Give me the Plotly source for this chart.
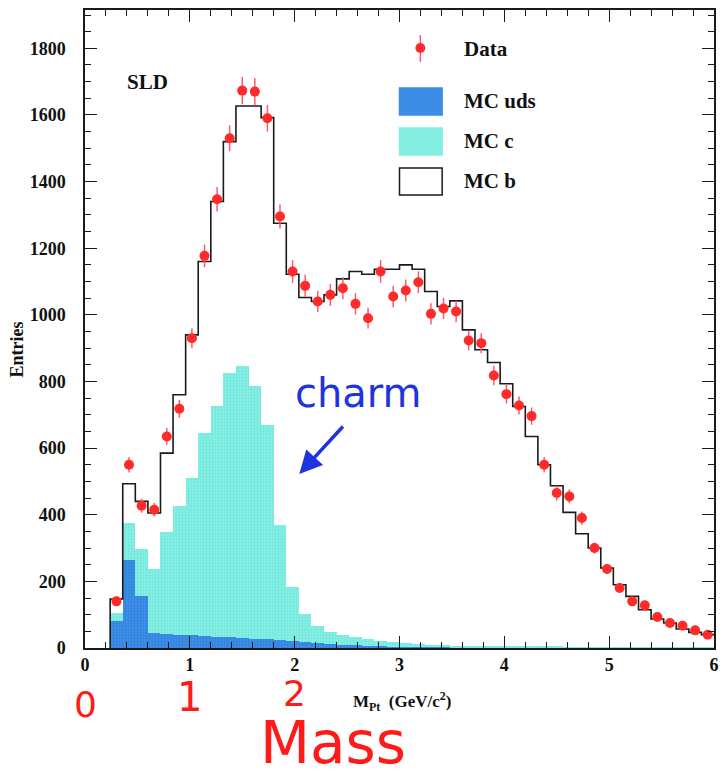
import plotly.graph_objects as go

# ---- data (48 bins of width 0.12 GeV/c^2 from 0.24 to 6.0) ----
bin_lo = 0.24
bin_w = 0.12
n_bins = 48

mc_uds = [80, 265, 155, 45, 42, 40, 38, 36, 34, 32, 30, 28, 26, 23, 20, 17,
          14, 12, 10, 8, 6, 5, 4, 3, 3, 2, 2, 2, 2, 2, 2, 2,
          2, 2, 2, 2, 1, 1, 1, 1, 1, 1, 1, 1, 1, 1, 1, 1]
mc_c = [25, 110, 143, 192, 305, 387, 472, 609, 691, 792, 817, 758, 644, 347, 163, 86,
        51, 36, 30, 25, 21, 17, 14, 12, 9, 8, 6, 5, 4, 4, 3, 3,
        2, 2, 2, 2, 2, 2, 2, 2, 2, 2, 2, 2, 2, 2, 2, 2]
mc_b = [42, 118, 142, 168, 238, 333, 430, 515, 615, 696, 780, 841, 922, 905, 939, 949,
        975, 1012, 1068, 1097, 1095, 1115, 1119, 1135, 1125, 1060, 1017, 1035, 949, 889, 852, 788,
        721, 631, 546, 483, 404, 340, 297, 237, 187, 152, 112, 84, 72, 54, 44, 37]
data = [140, 550, 427, 415, 635, 718, 930, 1177, 1347, 1530, 1673, 1670, 1590, 1295, 1130, 1087,
        1040, 1060, 1080, 1033, 990, 1130, 1055, 1073, 1098, 1003, 1019, 1010, 923, 915, 818, 762,
        728, 696, 550, 465, 455, 390, 300, 237, 180, 140, 128, 93, 75, 67, 53, 40]
data_err = [12, 23, 21, 20, 25, 27, 30, 34, 37, 39, 41, 41, 40, 36, 34, 33,
            32, 33, 33, 32, 31, 34, 32, 33, 33, 32, 32, 32, 30, 30, 29, 28,
            27, 26, 23, 22, 21, 20, 17, 15, 13, 12, 11, 10, 9, 8, 7, 6]

legend_labels = ["Data", "MC uds", "MC c", "MC b"]

edges = [round(bin_lo + bin_w * i, 4) for i in range(n_bins + 1)]
centers = [round(bin_lo + bin_w * (i + 0.5), 4) for i in range(n_bins)]
total = [u + c + b for u, c, b in zip(mc_uds, mc_c, mc_b)]

UDS_COL = "#3b8de6"
C_COL = "#84efe0"
SERIF = "Liberation Serif"

fig = go.Figure()
fig.add_trace(go.Bar(x=centers, y=mc_uds, width=bin_w, name="MC uds",
                     marker=dict(color=UDS_COL, line=dict(width=0),
                                 pattern=dict(shape=".", fgcolor="#2a6fc8", size=3, solidity=0.3)),
                     showlegend=False))
fig.add_trace(go.Bar(x=centers, y=mc_c, width=bin_w, name="MC c",
                     marker=dict(color=C_COL, line=dict(width=0),
                                 pattern=dict(shape=".", fgcolor="#5fd8e8", size=3, solidity=0.3)),
                     showlegend=False))
# MC b: outline of the stacked total
step_x = [edges[0]] + edges[:-1] + [edges[-1]]
step_y = [0] + total + [total[-1]]
fig.add_trace(go.Scatter(x=step_x, y=step_y, mode="lines", line_shape="hv",
                         line=dict(color="#1a1a1a", width=1.6), name="MC b", showlegend=False))
fig.add_trace(go.Scatter(x=centers, y=data, mode="markers", name="Data",
                         marker=dict(color="#ff2a2a", size=10),
                         error_y=dict(type="data", array=data_err, color="#ff5a6e",
                                      thickness=1.5, width=0),
                         showlegend=False))

# plot area geometry in pixels
L, R, T, B = 85, 3, 10, 126
W, H = 722, 774
pw, ph = W - L - R, H - T - B


def px(xp):
    return (xp - L) / pw


def py(yp):
    return (H - B - yp) / ph


def note(text, xc, yc, font, **kw):
    d = dict(xref="paper", yref="paper", x=px(xc), y=py(yc), text=text, showarrow=False,
             xanchor="center", yanchor="middle", font=font)
    d.update(kw)
    return d


shapes = []
annotations = []
# legend (drawn manually to match the original boxes)
shapes.append(dict(type="line", xref="paper", yref="paper", x0=px(423), x1=px(423),
                   y0=py(35), y1=py(62), line=dict(color="#ff5a6e", width=1.5)))
shapes.append(dict(type="circle", xref="paper", yref="paper", x0=px(418), x1=px(428),
                   y0=py(53), y1=py(43), fillcolor="#ff2a2a", line=dict(width=0)))
box_cols = [(UDS_COL, UDS_COL), (C_COL, C_COL), ("white", "#1a1a1a")]
box_tops = [88, 128, 168]
for (fc, lc), yt in zip(box_cols, box_tops):
    shapes.append(dict(type="rect", xref="paper", yref="paper", x0=px(402), x1=px(445),
                       y0=py(yt + 27), y1=py(yt), fillcolor=fc,
                       line=dict(color=lc, width=1.5)))
bold_serif = lambda s: dict(family=SERIF, size=s, color="#111", weight="bold")
for lab, yc in zip(legend_labels, [49, 101, 141, 181]):
    annotations.append(note(lab, 465, yc, bold_serif(21), xanchor="left"))

annotations.append(note("SLD", 148, 82, bold_serif(21)))
annotations.append(note("Entries", 16, 350, bold_serif(18), textangle=-90))
annotations.append(note("M<sub>Pt</sub>  (GeV/c<sup>2</sup>)", 405, 701, bold_serif(17)))
# hand-written notes
annotations.append(note("charm", 361, 393, dict(family="DejaVu Sans", size=40, color="#2033e0")))
annotations.append(dict(xref="paper", yref="paper", x=px(301), y=py(474), ax=45, ay=-49,
                        axref="pixel", ayref="pixel", text="", showarrow=True,
                        arrowhead=2, arrowsize=1.3, arrowwidth=3.5, arrowcolor="#2033e0"))
red = lambda s: dict(family="DejaVu Sans", size=s, color="#ff1a1a")
for t, xc, yc, s in [("0", 85, 704, 36), ("1", 190, 697, 40), ("2", 296, 693, 36)]:
    annotations.append(note(t, xc, yc, red(s)))
annotations.append(note("Mass", 335, 743, red(58), yanchor="middle", height=52, valign="middle"))

axis_common = dict(showline=True, linecolor="#1a1a1a", linewidth=1.5, mirror="ticks",
                   ticks="inside", ticklen=12, tickwidth=1.3, tickcolor="#1a1a1a",
                   showgrid=False, zeroline=False,
                   tickfont=bold_serif(18))

fig.update_layout(
    width=W, height=H, margin=dict(l=L, r=R, t=T, b=B),
    paper_bgcolor="white", plot_bgcolor="white",
    barmode="stack", bargap=0,
    xaxis=dict(range=[0, 6], dtick=1, tick0=0,
               minor=dict(dtick=0.2, ticklen=6, ticks="inside", tickcolor="#1a1a1a", showgrid=False),
               ticklabelstandoff=0, **axis_common),
    yaxis=dict(range=[0, 1915], dtick=200, tick0=0,
               minor=dict(dtick=50, ticklen=6, ticks="inside", tickcolor="#1a1a1a", showgrid=False),
               ticklabelstandoff=14, **axis_common),
    shapes=shapes, annotations=annotations, showlegend=False,
)

fig.write_html("out.html")
